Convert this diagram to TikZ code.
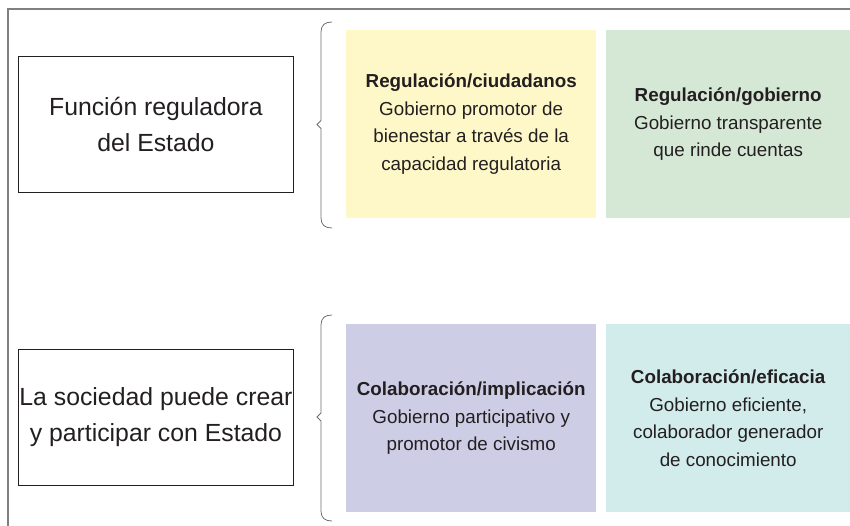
\documentclass[tikz,border=0pt]{standalone}
\usepackage{fontspec}
\setmainfont{Liberation Sans}
\definecolor{cyel}{HTML}{FEF8C8}
\definecolor{cgrn}{HTML}{D5E8D6}
\definecolor{cpur}{HTML}{CECDE6}
\definecolor{ccya}{HTML}{D2EBEB}
\definecolor{ctxt}{HTML}{231F20}
\definecolor{cframe}{HTML}{808080}
\definecolor{cbrace}{HTML}{6E6E6E}
\begin{document}
\begin{tikzpicture}[x=1pt,y=-1pt,
  mainbox/.style={draw=ctxt, line width=0.9pt, anchor=north west, inner sep=0pt,
    minimum width=275pt, minimum height=136pt, align=center, text=ctxt,
    font=\fontsize{24.8pt}{36pt}\selectfont},
  colbox/.style={anchor=north west, inner sep=0pt, minimum height=188pt,
    align=center, text=ctxt, font=\fontsize{18.8pt}{27.5pt}\selectfont},
  bracestyle/.style={draw=cbrace, line width=0.8pt},
  framestyle/.style={draw=cframe, line width=1.8pt}]
\useasboundingbox (0,0) rectangle (850,526);
% frame
\coordinate (fr1) at (850,9);
\coordinate (fr2) at (8,9);
\coordinate (fr3) at (8,527);
\draw[framestyle] (fr1) -- (fr2) -- (fr3);
% left boxes
\node[mainbox] (b1) at (18,56) {Función reguladora\\del Estado};
\node[mainbox] (b2) at (18,349) {La sociedad puede crear\\y participar con Estado};
% coloured boxes
\node[colbox, fill=cyel, minimum width=250pt] (y) at (346,30)
  {\textbf{Regulación/ciudadanos}\\Gobierno promotor de\\bienestar a través de la\\capacidad regulatoria};
\node[colbox, fill=cgrn, minimum width=244pt] (g) at (606,30)
  {\textbf{Regulación/gobierno}\\Gobierno transparente\\que rinde cuentas};
\node[colbox, fill=cpur, minimum width=250pt] (p) at (346,324)
  {\textbf{Colaboración/implicación}\\Gobierno participativo y\\promotor de civismo};
\node[colbox, fill=ccya, minimum width=244pt] (c) at (606,324)
  {\textbf{Colaboración/eficacia}\\Gobierno eficiente,\\colaborador generador\\de conocimiento};
% braces
\draw[bracestyle] (332,22) .. controls (325,22) and (321,25) .. (321,32)
  -- (321,120.5) -- (317,124.5) -- (321,128.5) -- (321,218)
  .. controls (321,225) and (325,228) .. (332,228);
\draw[bracestyle] (332,315) .. controls (325,315) and (321,318) .. (321,325)
  -- (321,413) -- (317,417) -- (321,421) -- (321,511)
  .. controls (321,518) and (325,521) .. (332,521);
\end{tikzpicture}
\end{document}
